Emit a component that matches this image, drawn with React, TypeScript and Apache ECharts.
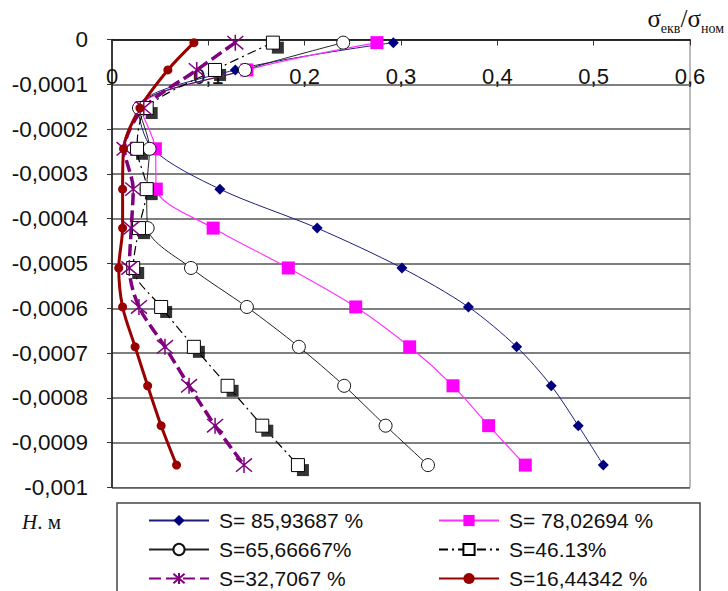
import React, { useEffect, useRef } from 'react';
import * as echarts from 'echarts';

// Depth H, m (shared by all series)
const depthH = [-0.000007, -0.000068, -0.000153, -0.000244, -0.000334, -0.000421, -0.00051, -0.000597, -0.000686, -0.000773, -0.000862, -0.00095];

// sigma_ekv / sigma_nom for each saturation S
const sBlue85 = [0.292, 0.128, 0.027, 0.042, 0.112, 0.213, 0.301, 0.370, 0.420, 0.456, 0.484, 0.510];
const sPink78 = [0.275, 0.140, 0.030, 0.045, 0.046, 0.105, 0.183, 0.253, 0.309, 0.354, 0.391, 0.429];
const sCircle65 = [0.240, 0.138, 0.028, 0.039, 0.036, 0.037, 0.082, 0.140, 0.194, 0.241, 0.284, 0.328];
const sSquare46 = [0.167, 0.107, 0.036, 0.026, 0.036, 0.028, 0.022, 0.051, 0.085, 0.120, 0.156, 0.193];
const sStar32 = [0.128, 0.088, 0.033, 0.013, 0.022, 0.020, 0.018, 0.028, 0.055, 0.080, 0.107, 0.137];
const sRed16 = [0.085, 0.058, 0.029, 0.012, 0.011, 0.011, 0.007, 0.011, 0.024, 0.037, 0.051, 0.067];

const seriesNames = ['S= 85,93687 %', 'S= 78,02694 %', 'S=65,66667%', 'S=46.13%', 'S=32,7067 %', 'S=16,44342 %'];

const yTickLabels = ['0', '-0,0001', '-0,0002', '-0,0003', '-0,0004', '-0,0005', '-0,0006', '-0,0007', '-0,0008', '-0,0009', '-0,001'];
const xTickLabels = ['0', '0,1', '0,2', '0,3', '0,4', '0,5', '0,6'];

const pts = (xs: number[]) => xs.map((x, i) => [x, depthH[i]]);

const SANS = '"Liberation Sans", Arial, sans-serif';
const SERIF = '"Liberation Serif", "DejaVu Serif", serif';

export default function App() {
  const ref = useRef<HTMLDivElement>(null);
  useEffect(() => {
    if (!ref.current) return;
    const chart = echarts.init(ref.current, null, { renderer: 'svg' });
    const smooth = 0.3;
    const legendCommon = {
      orient: 'vertical' as const,
      top: 510,
      itemWidth: 60,
      itemHeight: 14,
      itemGap: 8,
      padding: 0,
      selectedMode: false,
      textStyle: { fontSize: 21, fontFamily: SANS, color: '#111', padding: [0, 0, 0, 5] },
    };
    chart.setOption({
      animation: false,
      backgroundColor: '#fff',
      grid: { left: 112, right: 38, top: 39.5, bottom: 103.5, show: true, borderColor: '#777', borderWidth: 1 },
      xAxis: {
        type: 'value',
        position: 'top',
        min: 0,
        max: 0.6,
        interval: 0.1,
        axisLine: { show: true, onZero: false, lineStyle: { color: '#111', width: 1.5 } },
        axisTick: { show: true, inside: true, length: 6, lineStyle: { color: '#333' } },
        axisLabel: {
          inside: true,
          margin: 26,
          fontSize: 22,
          fontFamily: SANS,
          color: '#111',
          formatter: (v: number) => xTickLabels[Math.round(v / 0.1)] ?? '',
        },
        splitLine: { show: false },
      },
      yAxis: {
        type: 'value',
        min: -0.001,
        max: 0,
        interval: 0.0001,
        axisLine: { show: true, onZero: false, lineStyle: { color: '#111', width: 1.5 } },
        axisTick: { show: true, length: 5, lineStyle: { color: '#333' } },
        axisLabel: {
          margin: 24,
          fontSize: 22.5,
          fontFamily: SANS,
          color: '#111',
          formatter: (v: number) => yTickLabels[Math.round(-v / 0.0001)] ?? '',
        },
        splitLine: { show: true, lineStyle: { color: '#555', width: 1.5 } },
      },
      legend: [
        { ...legendCommon, left: 148, data: [seriesNames[0], seriesNames[2], seriesNames[4]] },
        { ...legendCommon, left: 438, data: [seriesNames[1], seriesNames[3], seriesNames[5]] },
      ],
      graphic: [
        {
          type: 'rect',
          shape: { x: 117, y: 503, width: 583, height: 120 },
          style: { fill: 'none', stroke: '#444', lineWidth: 1.5 },
          z: 1,
        },
        {
          type: 'text',
          left: 22,
          top: 511,
          style: {
            text: '{i|H}{n|. м}',
            rich: {
              i: { fontFamily: SERIF, fontSize: 21, fontStyle: 'italic', fill: '#111' },
              n: { fontFamily: SERIF, fontSize: 21, fill: '#111' },
            },
          },
        },
        {
          type: 'text',
          right: 4,
          top: 6,
          style: {
            text: '{a|σ}{s|екв}{a|/σ}{s|ном}',
            rich: {
              a: { fontFamily: SERIF, fontSize: 25, fill: '#111', lineHeight: 26, verticalAlign: 'bottom' },
              s: { fontFamily: SERIF, fontSize: 14, fill: '#111', lineHeight: 14, verticalAlign: 'bottom', padding: [0, 0, -4, 0] },
            },
          },
        },
      ],
      series: [
        {
          name: seriesNames[0],
          type: 'line',
          data: pts(sBlue85),
          smooth,
          symbol: 'diamond',
          symbolSize: 11,
          itemStyle: { color: '#000080' },
          lineStyle: { color: '#1f1f7a', width: 1 },
        },
        {
          name: seriesNames[1],
          type: 'line',
          data: pts(sPink78),
          smooth,
          symbol: 'rect',
          symbolSize: 13,
          itemStyle: { color: '#ff00ff' },
          lineStyle: { color: '#ff33ff', width: 1.2 },
        },
        {
          name: seriesNames[2],
          type: 'line',
          data: pts(sCircle65),
          smooth,
          symbol: 'circle',
          symbolSize: 13,
          itemStyle: { color: '#ffffff', borderColor: '#111', borderWidth: 1 },
          lineStyle: { color: '#222', width: 1 },
        },
        {
          name: '_shadow46',
          type: 'scatter',
          data: pts(sSquare46),
          symbol: 'rect',
          symbolSize: 12,
          symbolOffset: [5, 5],
          itemStyle: { color: '#000' },
          silent: true,
        },
        {
          name: seriesNames[3],
          type: 'line',
          data: pts(sSquare46),
          smooth,
          symbol: 'rect',
          symbolSize: 13,
          itemStyle: { color: '#ffffff', borderColor: '#000', borderWidth: 1 },
          lineStyle: { color: '#000', width: 1.2, type: [9, 4, 2, 4] },
        },
        {
          name: seriesNames[4],
          type: 'line',
          data: pts(sStar32),
          smooth,
          symbol: 'path://M0,0L10,10M10,0L0,10M5,-1L5,11',
          symbolSize: 16,
          itemStyle: { color: 'rgba(0,0,0,0)', borderColor: '#800080', borderWidth: 1.5 },
          lineStyle: { color: '#800080', width: 3.5, type: [12, 5] },
        },
        {
          name: seriesNames[5],
          type: 'line',
          data: pts(sRed16),
          smooth,
          symbol: 'circle',
          symbolSize: 9,
          itemStyle: { color: '#990000' },
          lineStyle: { color: '#990000', width: 3 },
        },
      ],
    });
    return () => chart.dispose();
  }, []);
  return (
    <div
      ref={ref}
      style={{ position: 'fixed', left: 0, top: 0, width: 728, height: 591, background: '#fff' }}
    />
  );
}
